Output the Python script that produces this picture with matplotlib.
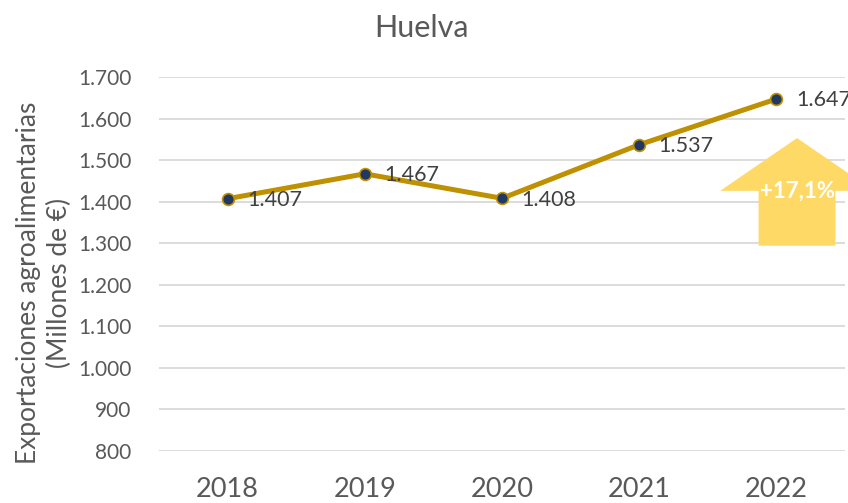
import matplotlib
matplotlib.use("Agg")
import matplotlib.pyplot as plt
from matplotlib.patches import Polygon

plt.rcParams['font.family'] = ['Lato', 'DejaVu Sans']

years = ["2018", "2019", "2020", "2021", "2022"]
values = [1407, 1467, 1408, 1537, 1647]
value_labels = ["1.407", "1.467", "1.408", "1.537", "1.647"]
y_ticks = [800, 900, 1000, 1100, 1200, 1300, 1400, 1500, 1600, 1700]
y_tick_labels = ["800", "900", "1.000", "1.100", "1.200", "1.300", "1.400",
                 "1.500", "1.600", "1.700"]
growth_label = "+17,1%"

fig = plt.figure(figsize=(8.48, 5.03), dpi=100)
ax = fig.add_axes([0.1875, 0.1034, 0.809, 0.7436])

x = list(range(len(years)))
ax.plot(x, values, color="#BF9000", lw=3.6, zorder=3,
        marker="o", markersize=8.5, markerfacecolor="#1F3864",
        markeredgecolor="#BF9000", markeredgewidth=1.2)

for xi, v, lab in zip(x, values, value_labels):
    ax.annotate(lab, (xi, v), xytext=(14, -1), textcoords="offset points",
                ha="left", va="center", fontsize=15.5, color="#404040", zorder=4)

# upward arrow marking the growth
arrow = Polygon([(3.87, 1294), (3.87, 1426), (3.59, 1426), (4.15, 1553),
                 (4.71, 1426), (4.43, 1426), (4.43, 1294)],
                closed=True, facecolor="#FFD966", edgecolor="none",
                zorder=2, clip_on=False)
ax.add_patch(arrow)
ax.text(4.15, 1424, growth_label, ha="center", va="center", fontsize=16,
        fontweight="bold", color="white", zorder=5)

ax.set_xlim(-0.5, 4.5)
ax.set_ylim(800, 1700)
ax.set_xticks(x)
ax.set_xticklabels(years, fontsize=19.5, color="#595959")
ax.set_yticks(y_ticks)
ax.set_yticklabels(y_tick_labels, fontsize=15, color="#595959")
ax.tick_params(length=0)
ax.tick_params(axis="x", pad=19)
ax.tick_params(axis="y", pad=20)
ax.grid(axis="y", color="#D9D9D9", lw=1.3)
ax.set_axisbelow(True)
for s in ax.spines.values():
    s.set_visible(False)

ax.set_ylabel("Exportaciones agroalimentarias\n(Millones de €)", fontsize=19,
              color="#595959", linespacing=1.3)
ax.yaxis.set_label_coords(-0.127, 0.45)
fig.text(0.4975, 0.944, "Huelva", ha="center", va="center", fontsize=22,
         color="#595959")

fig.savefig("out.png", dpi=100)
